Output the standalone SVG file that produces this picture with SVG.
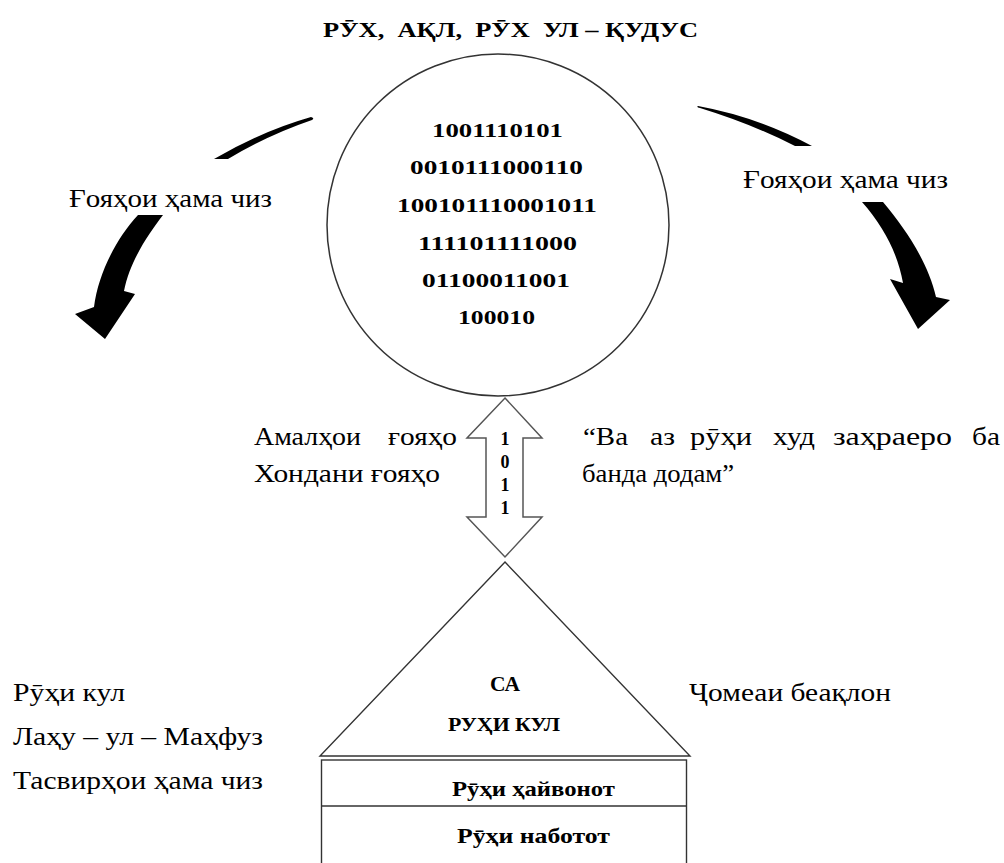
<svg xmlns="http://www.w3.org/2000/svg" width="1004" height="863" viewBox="0 0 1004 863">
<style>
.t{font-size:26px;fill:#000}
.b{font-weight:bold;fill:#000}
.bin{font-size:18px}
.ln{fill:none;stroke:#333;stroke-width:1.4}
.blk{fill:#000;stroke:none}
</style>
<rect width="1004" height="863" fill="#fff"/>
<g id="title" font-family="Liberation Serif, serif">
<text class="b" x="323" y="37" font-size="22" textLength="375" lengthAdjust="spacingAndGlyphs" xml:space="preserve">РӮХ,  АҚЛ,  РӮХ  УЛ – ҚУДУС</text>
</g>
<g id="circle-node" font-family="Liberation Serif, serif">
<circle cx="498" cy="225" r="171" fill="#fff" stroke="#333" stroke-width="1.5"/>
<text class="b bin" x="432" y="137" textLength="131" lengthAdjust="spacingAndGlyphs">1001110101</text>
<text class="b bin" x="410" y="174" textLength="173" lengthAdjust="spacingAndGlyphs">0010111000110</text>
<text class="b bin" x="397" y="212" textLength="200" lengthAdjust="spacingAndGlyphs">100101110001011</text>
<text class="b bin" x="418" y="250" textLength="159" lengthAdjust="spacingAndGlyphs">111101111000</text>
<text class="b bin" x="422" y="287" textLength="148" lengthAdjust="spacingAndGlyphs">01100011001</text>
<text class="b bin" x="458" y="324" textLength="77" lengthAdjust="spacingAndGlyphs">100010</text>
</g>
<g id="connectors">
<path class="blk" d="M214,159 Q262,131 311,117 Q315,118 312,120 Q268,135 228,159 Z"/>
<path class="blk" d="M138,215 L163,215 C150,232 130,260 124,291 L135,294 L105,339 L75,314 L94,307 C98,275 115,240 138,215 Z"/>
<path class="blk" d="M698,106 Q758,117 812,146 L795,146 Q752,124 700,108 Q696,107 698,106 Z"/>
<path class="blk" d="M862,202 L883,202 C905,228 928,262 936,297 L950,300 L918,329 L890,279 L903,283 C898,255 885,228 862,202 Z"/>
<polygon id="double-arrow" points="505,398 542,438 523,438 523,517 542,517 505,557 467,517 486,517 486,438 467,438" fill="#fff" stroke="#555" stroke-width="1.5"/>
</g>
<g id="arrow-digits" font-family="Liberation Serif, serif">
<text class="b" x="505" y="445" font-size="18" text-anchor="middle">1</text>
<text class="b" x="505" y="468" font-size="18" text-anchor="middle">0</text>
<text class="b" x="505" y="491" font-size="18" text-anchor="middle">1</text>
<text class="b" x="505" y="514" font-size="18" text-anchor="middle">1</text>
</g>
<g id="label-left-top" font-family="Liberation Serif, serif">
<text class="t" x="69" y="207" textLength="203" lengthAdjust="spacingAndGlyphs">Ғояҳои ҳама чиз</text>
</g>
<g id="label-right-top" font-family="Liberation Serif, serif">
<text class="t" x="743" y="188" textLength="205" lengthAdjust="spacingAndGlyphs">Ғояҳои ҳама чиз</text>
</g>
<g id="label-left-mid" font-family="Liberation Serif, serif">
<text class="t" x="254" y="445" textLength="107" lengthAdjust="spacingAndGlyphs">Амалҳои</text>
<text class="t" x="388" y="445" textLength="69" lengthAdjust="spacingAndGlyphs">ғояҳо</text>
<text class="t" x="254" y="482" textLength="186" lengthAdjust="spacingAndGlyphs">Хондани ғояҳо</text>
</g>
<g id="label-right-mid" font-family="Liberation Serif, serif">
<text class="t" x="583" y="445" textLength="45" lengthAdjust="spacingAndGlyphs">“Ва</text>
<text class="t" x="650" y="445" textLength="25" lengthAdjust="spacingAndGlyphs">аз</text>
<text class="t" x="690" y="445" textLength="62" lengthAdjust="spacingAndGlyphs">рӯҳи</text>
<text class="t" x="773" y="445" textLength="42" lengthAdjust="spacingAndGlyphs">худ</text>
<text class="t" x="833" y="445" textLength="119" lengthAdjust="spacingAndGlyphs">заҳраеро</text>
<text class="t" x="972" y="445" textLength="28" lengthAdjust="spacingAndGlyphs">ба</text>
<text class="t" x="582" y="482" textLength="152" lengthAdjust="spacingAndGlyphs">банда додам”</text>
</g>
<g id="triangle-node" font-family="Liberation Serif, serif">
<polygon class="ln" points="505,562 690,756 320,756"/>
<text class="b" x="505" y="691" font-size="20" text-anchor="middle" textLength="30" lengthAdjust="spacingAndGlyphs">СА</text>
<text class="b" x="448" y="731" font-size="18" textLength="112" lengthAdjust="spacingAndGlyphs">РУҲИ КУЛ</text>
</g>
<g id="layers-node" font-family="Liberation Serif, serif">
<rect class="ln" x="321.5" y="760" width="365" height="120"/>
<line class="ln" x1="321.5" y1="806" x2="686.5" y2="806"/>
<text class="b" x="452" y="796" font-size="22" textLength="163" lengthAdjust="spacingAndGlyphs">Рӯҳи ҳайвонот</text>
<text class="b" x="457" y="843" font-size="22" textLength="153" lengthAdjust="spacingAndGlyphs">Рӯҳи наботот</text>
</g>
<g id="label-left-bottom" font-family="Liberation Serif, serif">
<text class="t" x="13" y="701" textLength="112" lengthAdjust="spacingAndGlyphs">Рӯҳи кул</text>
<text class="t" x="13" y="745" textLength="250" lengthAdjust="spacingAndGlyphs">Лаҳу – ул – Маҳфуз</text>
<text class="t" x="13" y="789" textLength="250" lengthAdjust="spacingAndGlyphs">Тасвирҳои ҳама чиз</text>
</g>
<g id="label-right-bottom" font-family="Liberation Serif, serif">
<text class="t" x="689" y="701" textLength="202" lengthAdjust="spacingAndGlyphs">Ҷомеаи беақлон</text>
</g>
</svg>
